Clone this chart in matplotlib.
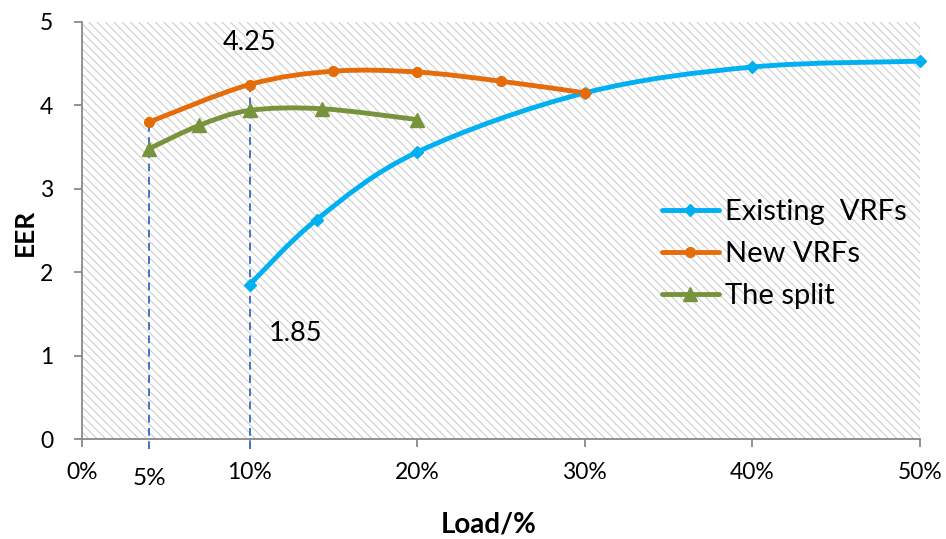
import numpy as np
import matplotlib
matplotlib.use("Agg")
import matplotlib.pyplot as plt
from matplotlib.path import Path
from matplotlib.patches import PathPatch, Rectangle
from matplotlib.lines import Line2D

plt.rcParams['font.family'] = ['Lato', 'DejaVu Sans']
plt.rcParams['hatch.linewidth'] = 0.7
plt.rcParams['hatch.color'] = '#c8c8c8'

# ---- data ----
existing_x = [10, 14, 20, 30, 40, 50]
existing_y = [1.85, 2.63, 3.44, 4.15, 4.46, 4.53]
new_x = [4.0, 10, 15, 20, 25, 30]
new_y = [3.80, 4.25, 4.41, 4.40, 4.29, 4.15]
split_x = [4.0, 7, 10, 14.3, 20]
split_y = [3.48, 3.76, 3.94, 3.96, 3.83]
series_names = ['Existing  VRFs', 'New VRFs', 'The split']
xticks = [0, 10, 20, 30, 40, 50]
xtick_labels = ['0%', '10%', '20%', '30%', '40%', '50%']
yticks = [0, 1, 2, 3, 4, 5]
guide_x = [4.0, 10]
guide_top = [3.80, 4.25]
guide_label = '5%'
ann_values = ['4.25', '1.85']

C_BLUE = '#00B0F0'
C_ORANGE = '#E46C0A'
C_GREEN = '#77933C'
C_AXIS = '#898989'


def smooth_path(xs, ys):
    pts = np.column_stack([xs, ys]).astype(float)
    n = len(pts)
    verts = [pts[0]]
    codes = [Path.MOVETO]
    for i in range(n - 1):
        p0 = pts[i - 1] if i > 0 else pts[i]
        p1 = pts[i]
        p2 = pts[i + 1]
        p3 = pts[i + 2] if i + 2 < n else pts[i + 1]
        c1 = p1 + (p2 - p0) / 6.0
        c2 = p2 - (p3 - p1) / 6.0
        verts += [c1, c2, p2]
        codes += [Path.CURVE4] * 3
    return Path(verts, codes)


fig = plt.figure(figsize=(9.46, 5.39), dpi=100)
ax = fig.add_axes([82 / 946, 1 - 439 / 539, (920 - 82) / 946, (439 - 22) / 539])
ax.set_xlim(0, 50)
ax.set_ylim(0, 5)
ax.patch.set_visible(False)
ax.add_patch(Rectangle((0, 0), 1, 1, transform=ax.transAxes, facecolor='white',
                       edgecolor='#c8c8c8', hatch='\\\\\\\\', linewidth=0, zorder=0))

for s in ['top', 'right']:
    ax.spines[s].set_visible(False)
for s in ['left', 'bottom']:
    ax.spines[s].set_color(C_AXIS)
    ax.spines[s].set_linewidth(1.3)

ax.set_xticks(xticks)
ax.set_xticklabels(xtick_labels)
ax.set_yticks(yticks)
ax.tick_params(axis='both', direction='out', length=5.8, width=1.3, color=C_AXIS,
               labelsize=16.5, labelcolor='black')
ax.tick_params(axis='y', pad=15)
ax.tick_params(axis='x', pad=11)

# guide dashed lines
for gx, gt in zip(guide_x, guide_top):
    ax.plot([gx, gx], [-0.12, gt], color='#4472C4', lw=1.4, ls=(0, (4, 2.8)),
            clip_on=False, zorder=2)

series = [
    (existing_x, existing_y, C_BLUE, 'D', 6.5),
    (new_x, new_y, C_ORANGE, 'o', 7),
    (split_x, split_y, C_GREEN, '^', 9.5),
]
handles = []
for (xs, ys, c, m, ms), name in zip(series, series_names):
    ax.add_patch(PathPatch(smooth_path(xs, ys), facecolor='none', edgecolor=c,
                           lw=3.5, capstyle='round', joinstyle='round', zorder=3))
    ax.plot(xs, ys, ls='none', marker=m, ms=ms, color=c, zorder=4, clip_on=False)
    handles.append(Line2D([], [], color=c, lw=3.5, marker=m, ms=ms,
                          solid_capstyle='round'))

ax.annotate(guide_label, xy=(guide_x[0], 0), xytext=(0, -28.5), textcoords='offset points',
            ha='center', va='center', fontsize=17.5, annotation_clip=False)
ax.annotate(ann_values[0], xy=(guide_x[1], new_y[1]), xytext=(0, 30.5),
            textcoords='offset points', ha='center', va='center', fontsize=19.5)
ax.annotate(ann_values[1], xy=(existing_x[0], existing_y[0]), xytext=(33, -35),
            textcoords='offset points', ha='center', va='center', fontsize=19.5)

fig.text(25 / 946, 1 - 232 / 539, 'EER', rotation=90, ha='center', va='center',
         fontsize=19, fontweight='bold')
fig.text(489 / 946, 1 - 524 / 539, 'Load/%', ha='center', va='center',
         fontsize=20, fontweight='bold')

leg = fig.legend(handles, series_names, loc='center left',
                 bbox_to_anchor=(662 / 946, 1 - 254 / 539), frameon=False,
                 fontsize=21, handlelength=1.95, handletextpad=0.2, labelspacing=0.55,
                 borderpad=0, borderaxespad=0)

fig.savefig('out.png', dpi=100)
